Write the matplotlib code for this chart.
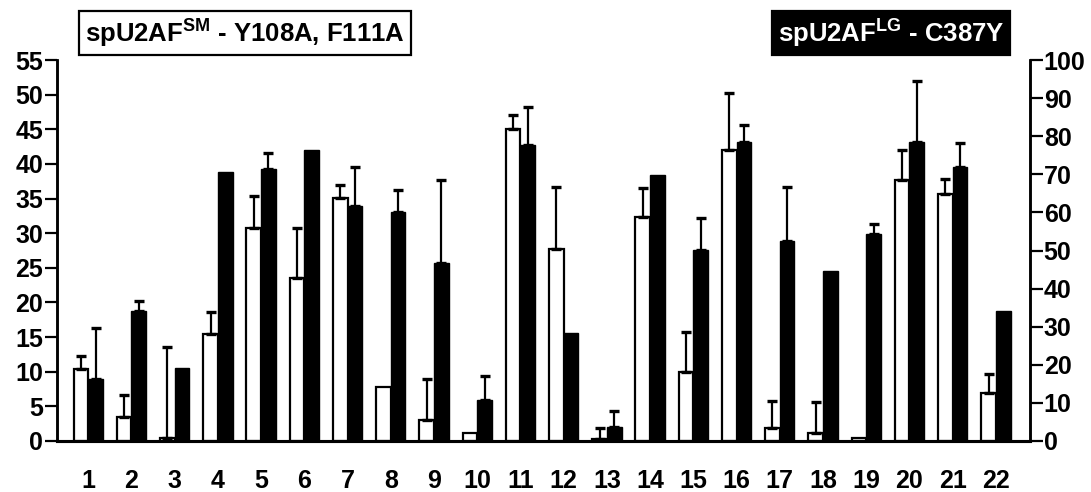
import matplotlib
matplotlib.use("Agg")
import matplotlib.pyplot as plt
import numpy as np

# splice site numbers on the x axis
sites = list(range(1, 23))

# spU2AF small subunit mutant (open bars, left axis)
sm_values = [10.4, 3.4, 0.5, 15.4, 30.8, 23.5, 35.1, 7.8, 3.1, 1.1, 45.0,
             27.7, 0.3, 32.4, 10.0, 42.0, 1.9, 1.15, 0.4, 37.7, 35.7, 6.9]
sm_err = [1.9, 3.2, 13.0, 3.2, 4.6, 7.3, 1.8, None, 5.8, None, 2.0,
          8.9, 1.6, 4.1, 5.8, 8.2, 3.8, 4.5, None, 4.3, 2.1, 2.7]

# spU2AF large subunit mutant (filled bars, right axis)
lg_values = [16.4, 34.1, 19.2, 70.6, 71.4, 76.3, 61.6, 60.2, 46.7, 10.8, 77.8,
             28.3, 3.75, 69.9, 50.2, 78.6, 52.4, 44.6, 54.4, 78.5, 72.0, 34.0]
lg_err = [13.2, 2.7, None, None, 4.2, None, 10.3, 5.6, 21.7, 6.3, 9.9,
          None, 4.0, None, 8.3, 4.4, 14.4, None, 2.6, 16.0, 6.2, None]

left_ticks = list(range(0, 56, 5))
right_ticks = list(range(0, 101, 10))

plt.rcParams["font.family"] = ["Liberation Sans", "DejaVu Sans"]
plt.rcParams["font.weight"] = "bold"
plt.rcParams["mathtext.fontset"] = "custom"
plt.rcParams["mathtext.rm"] = "Liberation Sans:bold"
plt.rcParams["mathtext.bf"] = "Liberation Sans:bold"

fig = plt.figure(figsize=(10.91, 4.92), dpi=100)
ax = fig.add_axes([0.0522, 0.1037, 0.8918, 0.7743])
ax2 = ax.twinx()

x = np.array(sites, dtype=float)
w = 0.34

ax.bar(x - w / 2, sm_values, width=w, color="white", edgecolor="black",
       linewidth=1.6, zorder=2)
ax2.bar(x + w / 2, lg_values, width=w, color="black", edgecolor="black",
        linewidth=1.0, zorder=2)

# error bars, upper side only
def upper_errors(axis, xs, vals, errs):
    idx = [i for i, e in enumerate(errs) if e is not None]
    xs = np.array([xs[i] for i in idx])
    v = np.array([vals[i] for i in idx])
    e = np.array([errs[i] for i in idx])
    axis.errorbar(xs, v, yerr=[np.zeros_like(e), e], fmt="none",
                  ecolor="black", elinewidth=1.6, capsize=3.4, capthick=2.4,
                  zorder=3)

upper_errors(ax, x - w / 2, sm_values, sm_err)
upper_errors(ax2, x + w / 2, lg_values, lg_err)

ax.set_xlim(0.276, 22.787)
ax.set_ylim(0, 55)
ax2.set_ylim(0, 100)

ax.set_xticks(sites)
ax.set_xticklabels([str(s) for s in sites], fontsize=18, fontweight="bold")
ax.set_yticks(left_ticks)
ax.set_yticklabels([str(t) for t in left_ticks], fontsize=18, fontweight="bold")
ax2.set_yticks(right_ticks)
ax2.set_yticklabels([str(t) for t in right_ticks], fontsize=18, fontweight="bold")

ax.tick_params(axis="x", length=0, pad=20)
ax.tick_params(axis="y", length=9, width=1.6, pad=1)
ax2.tick_params(axis="y", length=9, width=1.6, pad=1)

for a in (ax, ax2):
    a.spines["top"].set_visible(False)
    a.spines["left"].set_linewidth(1.8)
    a.spines["right"].set_linewidth(1.8)
    a.spines["bottom"].set_linewidth(2.2)

fig.text(0.078, 0.933, r"spU2AF$^{\mathbf{SM}}$ - Y108A, F111A", fontsize=18.5,
         fontweight="bold", ha="left", va="center",
         bbox=dict(boxstyle="square,pad=0.22", fc="white", ec="black", lw=1.6))
fig.text(0.713, 0.933, r"spU2AF$^{\mathbf{LG}}$ - C387Y", fontsize=18.5,
         fontweight="bold", color="white", ha="left", va="center",
         bbox=dict(boxstyle="square,pad=0.22", fc="black", ec="black", lw=1.6))

fig.savefig("out.png", dpi=100)
